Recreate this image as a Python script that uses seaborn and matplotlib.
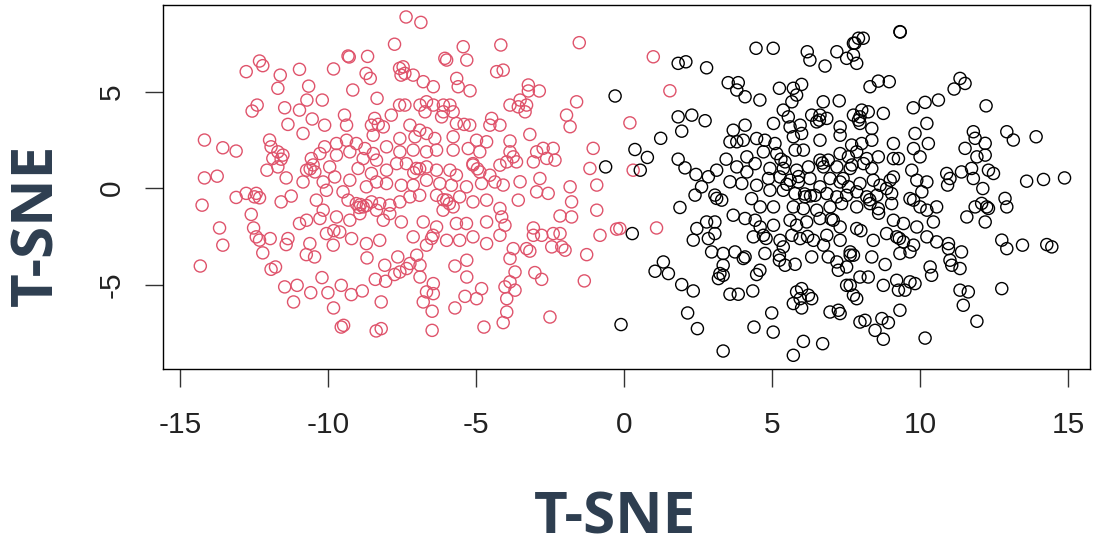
import matplotlib
matplotlib.use("Agg")
import matplotlib.pyplot as plt
import pandas as pd
import seaborn as sns

# ---- data ----
red_points = [
    (-7.36,8.86),(-6.86,8.58),(-7.75,7.45),(-9.32,6.84),(-9.28,6.79),(-8.66,6.82),(-9.81,6.17),(-10.96,6.15),(-12.31,6.58),(-12.2,6.34),
    (-12.76,6.03),(-11.61,5.85),(-11.69,5.17),(-10.65,5.28),(-8.71,5.94),(-8.57,5.68),(-9.16,5.08),(-7.58,6.2),(-7.53,5.85),(-8.34,4.65),
    (-10.71,4.56),(-10.19,4.56),(-12.39,4.3),(-12.56,3.99),(-11.46,4.16),(-10.96,4.04),(-10.53,3.58),(-11.35,3.3),(-9.44,3.78),(-8.42,3.61),
    (-7.86,3.78),(-7.58,4.3),(-14.17,2.49),(-13.55,2.09),(-13.1,1.92),(-11.97,2.49),(-11.92,2.14),(-11.69,1.88),(-11.52,1.71),(-11.86,1.54),
    (-11.58,1.5),(-12.06,0.93),(-11.69,1.1),(-11.41,0.53),(-14.17,0.53),(-13.74,0.62),
    (-14.25,-0.88),(-13.1,-0.48),(-12.76,-0.27),(-12.42,-0.27),(-12.31,-0.5),(-12.48,-0.45),(-11.58,-0.71),(-11.24,-0.41),(-12.59,-1.36),(-13.66,-2.06),
    (-12.51,-2.06),(-12.42,-2.52),(-12.31,-2.69),(-11.95,-2.61),(-13.55,-2.95),(-12.2,-3.35),(-11.35,-2.61),(-11.41,-2.92),(-10.96,-1.83),
    (-14.31,-4.03),(-11.92,-4.2),(-11.77,-4.08),(-11.46,-5.11),(-11.04,-5.03),(-11.16,-5.89),(-10.58,-5.41),(-10.0,-5.41),(-10.2,-4.63),(-9.81,-6.2),(-9.55,-5.03),
    (-9.21,-5.51),(-8.84,-5.32),(-9.55,-7.19),(-9.47,-7.1),(-8.37,-7.39),(-8.2,-7.27),(-8.2,-5.89),(-8.4,-4.72),(-8.05,-4.82),(-7.75,-4.47),
    (-8.08,-3.99),(-8.68,-3.61),(-7.64,-3.56),(-10.73,-3.44),(-10.45,-3.56),
    (-5.43,7.32),(-4.16,7.41),(-1.51,7.53),(-6.05,6.72),(-5.99,6.63),(-5.31,6.63),(-4.3,6.03),(-4.08,6.11),(-7.46,6.28),(-7.4,5.94),
    (-7.12,5.85),(-6.78,5.51),(-6.44,5.25),(-5.65,5.68),(-5.6,5.25),(-5.2,5.04),(-3.23,5.34),(-3.23,5.03),(-2.86,5.03),(-1.6,4.47),
    (-1.94,3.78),(-1.82,3.18),(0.2,3.38),(-3.85,4.3),(-3.51,4.56),(-3.29,4.3),(-3.34,3.95),(-3.57,4.21),(-7.4,4.3),(-6.89,4.3),
    (-6.67,4.47),(-6.72,3.95),(-6.44,4.3),(-6.1,4.3),(-5.88,4.3),(-5.77,3.95),(-6.16,3.69),(-6.1,3.95),(-4.47,3.61),(-4.19,3.26),
    (-3.18,2.78),(-3.85,2.44),(-1.04,2.06),(-1.15,1.02),(0.31,0.93),
    (-3.85,1.88),(-3.74,1.62),(-3.96,1.36),(-4.19,1.19),(-3.63,1.36),
    (-2.95,1.88),(-2.73,2.06),(-2.39,2.06),(-2.61,1.54),(-2.33,1.45),(-3.06,1.36),
    (-2.84,0.5),(-3.51,0.33),(-4.08,0.16),(-1.82,0.07),(-0.92,0.16),
    (-2.95,-0.19),(-2.56,-0.27),(-3.57,-0.62),(-1.77,-0.71),(-2.16,-1.44),(-1.77,-1.49),(-0.92,-1.14),(-0.25,-2.12),(-0.81,-2.44),(-1.26,-3.44),(-1.34,-4.8),
    (-3.06,-2.06),(-3.06,-2.44),(-2.78,-2.44),(-2.39,-2.35),(-2.16,-2.35),(-2.44,-3.04),(-2.1,-3.04),(-1.99,-3.21),
    (-3.74,-3.13),(-3.29,-3.13),(-3.18,-3.26),(-3.85,-3.64),(-3.01,-4.37),(-2.78,-4.72),
    (-3.68,-4.34),(-3.85,-4.85),(-4.02,-5.11),(-3.68,-5.28),(-3.96,-5.72),(-3.96,-6.41),(-4.08,-6.96),(-2.5,-6.67),(-4.73,-7.19),
    (-4.81,-5.2),(-4.98,-5.72),(-5.37,-5.6),(-5.31,-4.6),(-5.31,-3.73),(-5.71,-4.03),(-5.71,-6.2),
    (-6.48,-7.36),(-6.48,-6.37),(-6.78,-5.89),(-6.67,-5.37),(-6.44,-5.46),(-6.44,-4.94),(-6.89,-4.6),(-6.89,-3.99),(-7.23,-3.9),
    (-7.57,-4.34),(-7.34,-4.16),(-7.0,-3.47),
    (-4.19,-2.44),(-4.02,-1.92),(-4.19,-1.05),(-4.13,-1.49),
    (0.99,6.8),(1.55,5.04),(-0.14,-2.09),(1.1,-2.06),
    # dense centre of the red cluster
    (-10.11,3.26),(-9.37,3.26),(-8.53,3.26),(-8.13,3.17),(-7.23,3.26),(-6.9,3.0),(-6.67,2.83),(-5.66,3.35),(-5.21,3.26),(-4.53,3.26),
    (-10.84,2.83),(-8.47,2.74),(-7.57,2.57),(-7.06,2.66),(-6.39,2.57),(-5.77,2.66),(-4.98,2.48),(-4.64,2.4),
    (-10.11,2.14),(-9.71,2.31),(-9.37,2.48),(-9.04,2.31),(-8.75,2.05),(-8.47,1.79),(-8.02,2.14),(-7.57,1.88),(-7.12,1.97),(-6.67,1.88),
    (-6.33,1.97),(-5.77,1.97),(-5.26,2.05),(-4.87,1.88),(-10.56,1.53),(-10.27,1.79),(-9.71,1.71),(-9.26,1.88),(-8.81,1.53),(-8.36,1.45),
    (-10.72,0.93),(-10.44,0.84),(-9.94,1.1),(-9.77,0.58),(-8.98,1.02),(-8.53,0.76),(-8.02,0.93),(-7.68,1.27),(-7.35,1.27),(-7.01,1.02),
    (-6.67,1.1),(-6.33,0.93),(-5.88,0.93),(-5.66,0.67),(-5.1,1.27),(-4.87,0.84),(-4.53,0.67),
    (-10.84,0.32),(-10.16,0.32),(-9.26,0.41),(-8.7,0.07),(-8.36,0.32),(-8.02,0.24),(-7.52,0.15),(-7.12,0.15),(-6.67,0.41),(-6.22,0.24),
    (-5.83,0.15),(-5.32,0.07),(-4.81,0.24),(-4.36,0.32),
    (-10.05,-0.11),(-9.49,-0.19),(-9.32,-0.62),(-9.04,-0.8),(-8.81,-0.97),(-8.53,-0.71),(-8.25,-0.8),(-7.91,-0.88),(-7.57,-0.71),(-7.23,-0.45),
    (-6.9,-0.37),(-6.33,-0.37),(-5.99,-0.62),(-5.55,-0.45),(-5.1,-0.71),(-4.64,-0.62),(-10.39,-0.62),(-10.16,-1.14),(-8.92,-1.32),(-8.36,-1.14),
    (-7.91,-1.32),(-6.11,-1.14),(-5.77,-0.97),
    (-10.72,-1.66),(-10.27,-1.57),(-9.71,-1.49),(-9.26,-1.66),(-8.13,-1.66),(-7.52,-1.75),(-6.78,-1.75),(-6.33,-2.01),(-5.66,-1.83),(-5.32,-1.83),
    (-4.64,-1.75),(-10.05,-2.35),(-9.6,-2.27),(-9.2,-2.61),(-8.7,-2.87),(-8.25,-2.7),(-7.12,-2.52),(-6.45,-2.44),(-5.99,-2.7),(-5.55,-2.7),
    (-5.1,-2.52),(-10.61,-2.87),(-9.82,-2.95),(-6.67,-2.95),(-4.64,-2.87),
    (-8.9,-0.85),(-8.7,-0.9),(-8.95,-1.0),(-6.1,-0.6),(-5.9,-0.8),(-5.1,1.2),(-4.95,1.0),(-7.1,0.8),(-6.9,1.0),(-10.6,1.0),
    (-10.5,1.2),(-9.8,-2.2),(-6.5,-2.6),(-5.4,3.3),(-8.3,3.3),
]

black_points = [
    (-0.3,4.77),(0.37,2.0),(-0.62,1.1),(0.55,0.93),(0.28,-2.35),(-0.1,-7.06),
    (1.83,6.46),(2.09,6.54),(2.79,6.23),(4.46,7.24),(5.04,7.24),(6.19,7.06),(6.28,6.63),(6.79,6.32),(7.19,7.06),(7.52,6.72),(7.75,7.5),(7.92,7.76),(7.86,6.46),
    (3.52,5.46),(3.86,5.46),(3.81,5.08),(4.09,4.73),(4.59,4.56),(5.25,5.17),(5.72,5.17),(6.0,5.37),(5.83,4.82),(5.67,4.47),(5.38,4.04),(5.55,3.69),
    (6.73,4.47),(7.27,4.52),(6.62,3.78),(6.85,3.61),(6.34,3.78),(6.6,3.52),(1.83,3.69),(2.29,3.78),(2.74,3.49),(1.95,2.95),(1.24,2.58),(0.79,1.59),
    (1.83,1.5),(2.06,1.05),(2.43,0.71),(2.85,0.59),(3.13,0.93),(3.45,1.5),(3.81,1.1),
    (3.69,3.0),(3.58,2.4),(3.81,2.4),(7.75,3.78),(3.58,0.33),
    (9.32,8.1),(9.33,8.08),(8.08,7.76),(7.8,7.5),(7.75,6.89),
    (8.31,5.25),(8.59,5.54),(8.96,5.51),(11.35,5.68),(11.52,5.42),(11.15,5.13),(12.23,4.26),(9.77,4.16),(10.17,4.44),(10.62,4.56),(8.76,3.87),
    (8.03,4.04),(8.25,3.95),(7.92,3.52),(7.97,3.69),
    (11.8,2.92),(11.86,2.58),(12.2,2.32),(11.52,2.06),(11.92,1.62),(12.2,1.71),(12.93,2.92),(13.15,2.49),(13.92,2.66),
    (10.9,0.76),(11.01,0.5),(11.4,0.84),(11.74,1.02),(11.8,0.5),(12.31,0.93),(12.48,0.76),(13.6,0.36),(14.17,0.45),(14.88,0.53),
    (1.89,-1.0),(2.4,-0.36),(2.62,0.07),(3.13,-0.53),(3.3,-0.62),(3.07,-0.36),(3.69,-1.4),
    (2.79,-1.75),(3.07,-1.75),(2.46,-2.09),(2.34,-2.69),(2.85,-2.61),(3.07,-2.35),
    (2.96,-3.3),(3.35,-3.38),(3.75,-3.3),(4.09,-3.56),(4.03,-3.64),(3.35,-3.99),(3.24,-4.42),(3.19,-4.68),(3.35,-4.51),(4.76,-3.38),(4.59,-4.25),(4.48,-4.47),
    (5.25,-3.47),(5.25,-3.73),(5.44,-3.99),(5.78,-3.94),
    (1.33,-3.82),(1.05,-4.3),(1.5,-4.42),(1.95,-4.99),(2.34,-5.32),(3.58,-5.49),(3.86,-5.49),(4.35,-5.32),(2.15,-6.46),(2.48,-7.27),
    (4.99,-6.46),(4.39,-7.19),(5.04,-7.45),(3.35,-8.43),(5.72,-8.65),(6.06,-7.93),(6.71,-8.05),
    (5.83,-5.37),(6.0,-5.2),(6.23,-5.54),(6.34,-5.72),(5.72,-5.97),(6.0,-6.2),(5.95,-5.72),(6.96,-6.41),(7.24,-6.32),(7.3,-6.49),
    (7.52,-5.03),(7.75,-5.54),(7.86,-5.72),(7.97,-6.93),
    (6.34,-3.56),(6.9,-3.56),(7.19,-3.82),(7.24,-4.25),(7.52,-4.08),(7.64,-3.47),(7.64,-3.3),
    (10.93,0.16),(12.12,-0.02),(11.58,-1.49),(11.86,-0.97),(12.08,-0.79),(12.25,-0.97),(12.31,-1.05),(12.87,-0.53),(12.93,-0.97),(12.2,-1.75),
    (12.76,-2.69),(12.93,-3.13),(13.46,-2.95),(14.28,-2.92),(14.45,-3.04),(12.76,-5.2),
    (7.75,-3.47),(7.97,-4.6),(8.25,-4.6),(7.64,-5.03),
    (8.37,-3.56),(8.82,-3.95),(9.66,-3.3),(9.32,-3.38),(10.34,-4.08),(10.39,-4.51),
    (8.76,-5.03),(9.21,-4.77),(9.27,-5.28),(9.49,-5.28),(9.66,-4.85),(9.83,-4.94),
    (10.96,-2.87),(10.96,-3.13),(11.4,-3.3),(11.07,-3.99),(11.35,-4.16),(11.01,-3.73),(11.35,-5.28),(11.63,-5.37),(11.46,-6.06),(11.92,-6.89),
    (9.32,-6.32),(8.14,-6.84),(8.71,-6.75),(8.93,-6.96),(8.48,-7.36),(8.76,-7.82),(10.17,-7.76),
    # dense centre of the black cluster
    (4.09,3.26),(5.05,3.35),(5.61,3.17),(5.95,3.26),(6.51,3.43),(7.3,3.17),(7.97,3.35),(8.37,3.09),(10.23,3.35),(4.03,2.48),
    (4.48,2.57),(4.76,2.48),(5.1,2.31),(5.72,2.66),(6.0,2.83),(6.62,2.48),(7.3,2.74),(7.69,2.23),(8.03,2.31),(8.37,2.48),
    (9.1,2.31),(9.83,2.83),(10.28,2.31),(9.78,2.05),
    (4.15,1.62),(4.43,1.27),(4.71,1.88),(5.16,1.79),(5.44,1.36),(5.78,1.97),(6.06,1.97),(6.62,1.45),(6.9,1.45),(7.3,1.79),
    (7.58,1.62),(7.86,1.88),(8.2,1.53),(8.59,1.62),(9.1,1.53),(9.27,1.53),(10.0,1.62),(4.15,0.84),(4.93,1.02),(5.38,1.02),
    (5.83,0.93),(6.23,1.1),(6.74,1.1),(7.19,1.1),(7.64,1.02),(8.09,1.27),(8.37,1.02),(8.99,0.41),(9.1,0.58),(9.72,0.93),
    (3.98,0.24),(4.48,0.15),(4.88,0.5),(5.27,0.58),(5.61,0.41),(5.89,0.32),(6.28,0.5),(6.62,0.07),(6.96,0.5),(7.3,0.32),
    (7.58,0.07),(7.97,0.24),(8.42,0.41),(8.65,0.15),(9.89,0.41),(10.23,0.32),(4.31,-0.54),(4.93,-0.11),(5.38,-0.11),(5.78,-0.28),
    (6.12,-0.45),(6.45,-0.37),(6.85,-0.28),(7.19,-0.45),(7.52,-0.37),(7.86,-0.19),(8.2,-0.45),(8.54,-0.37),(8.87,-0.02),(9.04,-0.28),
    (9.66,-0.54),(10.06,-0.19),
    (4.6,-0.97),(5.05,-0.97),(5.72,-0.97),(6.06,-1.06),(6.51,-1.14),(6.96,-0.97),(7.35,-0.8),(7.86,-0.97),(8.31,-0.8),(8.59,-1.06),
    (9.04,-0.8),(9.78,-0.62),(10.0,-0.97),(10.23,-1.14),(10.56,-0.97),(4.09,-1.57),(4.43,-1.66),(4.6,-2.01),(5.05,-1.92),(5.61,-1.66),
    (5.83,-1.92),(6.17,-1.75),(6.62,-1.57),(7.07,-1.66),(7.3,-2.01),(7.86,-2.09),(9.1,-1.66),(9.44,-1.83),(9.89,-2.01),(10.45,-1.75),
    (4.37,-2.52),(4.71,-2.44),(5.27,-2.7),(5.67,-2.44),(5.95,-2.61),(6.4,-2.7),(6.85,-2.44),(7.3,-2.7),(8.42,-2.7),(8.87,-2.35),
    (9.21,-2.52),(9.44,-2.78),(9.78,-2.95),(10.23,-2.52),(10.56,-2.78),(5.38,-3.04),(6.74,-2.95),
    (6.3,-0.4),(6.1,-0.3),(7.0,-1.6),(5.9,0.6),(8.3,-0.6),(6.7,1.3),(5.5,0.2),(7.4,0.5),(8.0,-2.2),(6.2,-2.5),
    (4.8,-2.6),(9.3,-2.6),(7.7,1.2),(5.3,1.5),(8.6,-1.3),
]

x_ticks = [-15, -10, -5, 0, 5, 10, 15]
y_ticks = [-5, 0, 5]
x_label = "T-SNE"
y_label = "T-SNE"
group_colors = {"1": "#DF536B", "2": "#000000"}

df = pd.DataFrame(
    [(x, y, "1") for x, y in red_points] + [(x, y, "2") for x, y in black_points],
    columns=["x", "y", "group"],
)

sns.set_theme(style="white")
plt.rcParams["font.family"] = ["Liberation Sans", "DejaVu Sans"]

W, H = 1100, 548
fig = plt.figure(figsize=(W / 100, H / 100), dpi=100)
fig.patch.set_facecolor("white")
ax = fig.add_axes([163 / W, 1 - 369 / H, (1090 - 163) / W, (369 - 5) / H])

sns.scatterplot(data=df, x="x", y="y", hue="group", palette=group_colors,
                s=76, linewidth=1.0, legend=False, ax=ax)
coll = ax.collections[0]
fcs = coll.get_facecolors()
coll.set_edgecolors(fcs)
coll.set_facecolors("none")
coll.set_linewidths(1.0)

ax.set_xlim(-15.57, 15.74)
ax.set_ylim(-9.36, 9.48)
ax.set_xticks(x_ticks)
ax.set_xticklabels([str(t) for t in x_ticks])
ax.set_yticks(y_ticks)
ax.set_yticklabels([str(t) for t in y_ticks])
ax.set_xlabel("")
ax.set_ylabel("")
for sp in ax.spines.values():
    sp.set_visible(True)
    sp.set_color("#000000")
    sp.set_linewidth(1.0)
ax.tick_params(axis="both", direction="out", length=13, width=1.0,
               color="#333333", labelsize=21.5, labelcolor="#222222",
               bottom=True, left=True, top=False, right=False)
ax.tick_params(axis="x", pad=17)
ax.tick_params(axis="y", pad=14, labelrotation=90)
for lbl in ax.get_yticklabels():
    lbl.set_va("center")

fig.text(615 / W, 1 - 518 / H, x_label, ha="center", va="center",
         fontsize=42, fontweight="bold", color="#2E3E50", family="Open Sans")
fig.text(37 / W, 1 - 225 / H, y_label, ha="center", va="center", rotation=90,
         fontsize=42, fontweight="bold", color="#2E3E50", family="Open Sans")

fig.savefig("out.png", dpi=100)
